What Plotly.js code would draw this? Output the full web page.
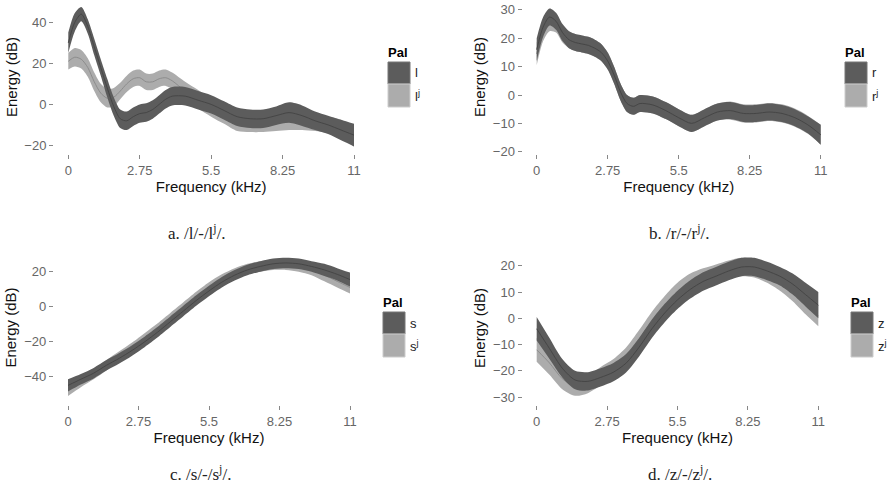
<!DOCTYPE html>
<html>
<head>
<meta charset="utf-8">
<script src="https://cdn.plot.ly/plotly-3.0.1.min.js"></script>
<style>html,body{margin:0;padding:0;background:#fff;}#chart{width:890px;height:487px;}</style>
</head>
<body>
<div id="chart"></div>
<script>
// ---------- data ----------
const freqAB = [0,0.25,0.5,0.75,1,1.25,1.5,1.75,2,2.25,2.5,2.75,3,3.25,3.5,3.75,4,4.5,5,5.5,6,6.5,7,7.5,8,8.5,9,9.5,10,10.5,11];
const freqCD = [0,0.5,1,1.5,2,2.5,3,3.5,4,4.5,5,5.5,6,6.5,7,7.5,8,8.5,9,9.5,10,10.5,11];

const lMean  = [30,40,44,38,28,18,8,-1,-7,-8,-6,-4.5,-4,-2.5,0,2.5,4,4,2,0,-3,-6,-7,-7,-5.5,-4,-5.5,-8,-10,-12.5,-15];
const lHalf  = [5,4.5,3.5,3.5,4,4,4.5,4.5,4.5,4.5,4.5,4.5,4.5,4.5,4.5,4.5,4.5,4.5,4.5,4.5,4.5,4.5,4.5,4.5,4.5,5,5,4.5,4.5,5,5.5];
const ljMean = [21,23,22,18,11,5.5,3,3.5,6.5,10,12.5,13,11,11,12.5,13,11.5,6.5,2.5,-1.5,-5,-8.5,-9.5,-9.5,-9,-8.5,-8.5,-9,-10,-12,-16];
const ljHalf = [4,4.5,4.5,4.5,4.5,4.5,4.5,4.5,4,4,4,4,4,4,4,4,4,4.5,4.5,4.5,4.5,4.5,4,4,4,4,4,4,4,4.5,4.5];

const rMean  = [16,24,27.5,26,22,19.5,18.5,18,17.5,16.5,15,12,7,1,-3,-4,-3,-3.5,-5.5,-8,-10,-8,-6,-5.5,-6.5,-6.5,-6,-6.5,-8,-10.5,-14];
const rHalf  = [4,3.5,3,3,3,3,3,3,3,3,3,3,3,3,3,3,3,3,3,3,3,3,3,3,3,3,3,3,3,3,3.5];
const rjMean = [14.5,22.5,26,25,21.5,19.5,18.5,18,17.5,16.5,15,12,7,1,-3,-4,-3,-3.5,-5.5,-8,-10,-8,-6,-5.5,-6.5,-6.5,-6,-6.5,-8,-10.5,-14];
const rjHalf = [4,3.5,3.5,3,3,3,3,3,3,3,3,3,3,3,3,3,3,3,3,3,3,3,3,3.2,3.2,3.2,3.2,3.2,3.2,3.2,3.5];

const sMean  = [-45,-41.5,-38,-33.5,-29.5,-25,-20,-14.5,-8.5,-2.5,3.5,9,14,18,21,23,24.5,25,24.5,23,21,18.5,15.5];
const sHalf  = [3.5,3,3,3,3,3,3,3,3,3,3,3,3,3,3,3,3,3,3,3,3.5,3.5,4];
const sjMean = [-47,-42.5,-38.5,-33.5,-28.5,-23.5,-18,-12.5,-6.5,-0.5,5.5,11,15.5,19,21.5,23,24,24,23,21,18,14.5,11];
const sjHalf = [4,3.5,3,3,3,3,3,3,3,3,3,3,3,3,3,3,3,3,3,3,3.5,3.5,3.5];

const zMean  = [-4,-11.5,-19,-23.5,-24,-22.5,-20.5,-17,-11,-4,2,7,11,14,16,18,19.5,19.5,18,16,13,9,5];
const zHalf  = [4.5,4,3.5,3.5,3.5,3.5,3.5,3.5,3.5,3.5,3.5,3.5,3.5,3.5,3.5,3.5,3.5,3.5,3.5,3.5,4,4.5,5];
const zjMean = [-12,-17,-23,-26,-25,-22,-19,-14.5,-8,-1,5,10,13.5,15.5,17,18.5,19.5,19,17,14,10,5.5,1];
const zjHalf = [4.5,4.5,4,3.5,3.5,3.5,3.5,3.5,3.5,3.5,3.5,3.5,3.5,3.5,3.5,3.5,3.5,3.5,3.5,3.5,3.5,4,4];

const xTickVals = [0,2.75,5.5,8.25,11];
const xTickText = ['0','2.75','5.5','8.25','11'];

const panels = [
  {freq: freqAB, plain: 'l', pal: 'l<sup>j</sup>', mean: lMean, half: lHalf, jmean: ljMean, jhalf: ljHalf,
   yticks: [-20,0,20,40], caption: 'a. /l/-/l<sup>j</sup>/.'},
  {freq: freqAB, plain: 'r', pal: 'r<sup>j</sup>', mean: rMean, half: rHalf, jmean: rjMean, jhalf: rjHalf,
   yticks: [-20,-10,0,10,20,30], caption: 'b. /r/-/r<sup>j</sup>/.'},
  {freq: freqCD, plain: 's', pal: 's<sup>j</sup>', mean: sMean, half: sHalf, jmean: sjMean, jhalf: sjHalf,
   yticks: [-40,-20,0,20], caption: 'c. /s/-/s<sup>j</sup>/.'},
  {freq: freqCD, plain: 'z', pal: 'z<sup>j</sup>', mean: zMean, half: zHalf, jmean: zjMean, jhalf: zjHalf,
   yticks: [-30,-20,-10,0,10,20], caption: 'd. /z/-/z<sup>j</sup>/.'}
];

// ---------- layout geometry (pixels) ----------
const W = 890, H = 487;
const geom = [
  {x0: 54,    x1: 368.3, y0: 0,   y1: 154, yr: [-24.2, 50.9], leg: {x: 388, y: 62}, cap: {x: 197, y: 232}},
  {x0: 522.5, x1: 834.9, y0: 0,   y1: 154, yr: [-20.8, 33.5], leg: {x: 845, y: 62}, cap: {x: 679, y: 232}},
  {x0: 53.9,  x1: 364.1, y0: 250, y1: 405, yr: [-56.2, 32.4], leg: {x: 383, y: 312}, cap: {x: 200, y: 473}},
  {x0: 522.6, x1: 832.4, y0: 251, y1: 405, yr: [-33.0, 25.6], leg: {x: 851, y: 312}, cap: {x: 680, y: 473}}
];
const px = v => v / W;
const py = v => 1 - v / H;

const DARK_FILL = 'rgb(92,92,92)', DARK_LINE = 'rgb(70,70,70)';
const LIGHT_FILL = 'rgb(172,172,172)', LIGHT_LINE = 'rgb(140,140,140)';
const SANS = 'Liberation Sans, Arial, sans-serif';

const traces = [];
const layout = {
  width: W, height: H,
  margin: {l: 0, r: 0, t: 0, b: 0},
  paper_bgcolor: '#fff', plot_bgcolor: '#fff',
  showlegend: false,
  font: {family: SANS, color: '#000'},
  shapes: [], annotations: []
};

function band(p, mean, half, fill, line, xa, ya) {
  const lo = mean.map((m, i) => m - half[i]);
  const hi = mean.map((m, i) => m + half[i]);
  traces.push({x: p.freq, y: lo, xaxis: xa, yaxis: ya, type: 'scatter', mode: 'lines',
    line: {width: 0, shape: 'spline', smoothing: 0.8, color: fill}, hoverinfo: 'skip'});
  traces.push({x: p.freq, y: hi, xaxis: xa, yaxis: ya, type: 'scatter', mode: 'lines', fill: 'tonexty',
    fillcolor: fill, line: {width: 0, shape: 'spline', smoothing: 0.8, color: fill}, hoverinfo: 'skip'});
  traces.push({x: p.freq, y: mean, xaxis: xa, yaxis: ya, type: 'scatter', mode: 'lines',
    line: {width: 1, shape: 'spline', smoothing: 0.8, color: line}, hoverinfo: 'skip'});
}

panels.forEach((p, k) => {
  const g = geom[k];
  const n = k + 1;
  const xa = 'x' + (n === 1 ? '' : n), ya = 'y' + (n === 1 ? '' : n);
  band(p, p.jmean, p.jhalf, LIGHT_FILL, LIGHT_LINE, xa, ya);
  band(p, p.mean, p.half, DARK_FILL, DARK_LINE, xa, ya);

  const xKey = 'xaxis' + (n === 1 ? '' : n), yKey = 'yaxis' + (n === 1 ? '' : n);
  layout[xKey] = {
    domain: [px(g.x0), px(g.x1)], anchor: ya, range: [-0.55, 11.55],
    showgrid: false, zeroline: false, showline: false,
    tickmode: 'array', tickvals: xTickVals, ticktext: xTickText,
    ticks: 'outside', ticklen: 4, tickwidth: 1, tickcolor: '#888',
    tickfont: {size: 13, color: '#666', family: SANS},
    title: {text: 'Frequency (kHz)', standoff: 1, font: {size: 15, color: '#111', family: SANS}}
  };
  layout[yKey] = {
    domain: [py(g.y1), py(g.y0)], anchor: xa, range: g.yr,
    showgrid: false, zeroline: false, showline: false,
    tickmode: 'array', tickvals: p.yticks,
    ticks: 'outside', ticklen: 4, tickwidth: 1, tickcolor: '#888',
    tickfont: {size: 13, color: '#666', family: SANS},
    title: {text: 'Energy (dB)', standoff: 3, font: {size: 15, color: '#111', family: SANS}}
  };

  // legend (drawn as shapes + text)
  const L = g.leg;
  layout.annotations.push({xref: 'paper', yref: 'paper', x: px(L.x - 2), y: py(L.y - 10),
    text: '<b>Pal</b>', showarrow: false, xanchor: 'left', yanchor: 'middle',
    font: {size: 13, color: '#000', family: SANS}});
  layout.shapes.push({type: 'rect', xref: 'paper', yref: 'paper',
    x0: px(L.x), x1: px(L.x + 22), y0: py(L.y), y1: py(L.y + 22),
    fillcolor: DARK_FILL, line: {color: '#777', width: 1}});
  layout.shapes.push({type: 'rect', xref: 'paper', yref: 'paper',
    x0: px(L.x), x1: px(L.x + 22), y0: py(L.y + 22), y1: py(L.y + 45),
    fillcolor: LIGHT_FILL, line: {color: '#ccc', width: 1}});
  layout.annotations.push({xref: 'paper', yref: 'paper', x: px(L.x + 25), y: py(L.y + 11),
    text: p.plain, showarrow: false, xanchor: 'left', yanchor: 'middle',
    font: {size: 13, color: '#222', family: SANS}});
  layout.annotations.push({xref: 'paper', yref: 'paper', x: px(L.x + 25), y: py(L.y + 34),
    text: p.pal, showarrow: false, xanchor: 'left', yanchor: 'middle',
    font: {size: 13, color: '#222', family: SANS}});

  // caption
  layout.annotations.push({xref: 'paper', yref: 'paper', x: px(g.cap.x), y: py(g.cap.y),
    text: p.caption, showarrow: false, xanchor: 'center', yanchor: 'middle',
    font: {size: 17, color: '#222', family: 'Liberation Serif, Times New Roman, serif'}});
});

Plotly.newPlot('chart', traces, layout, {staticPlot: true, displayModeBar: false});
</script>
</body>
</html>
